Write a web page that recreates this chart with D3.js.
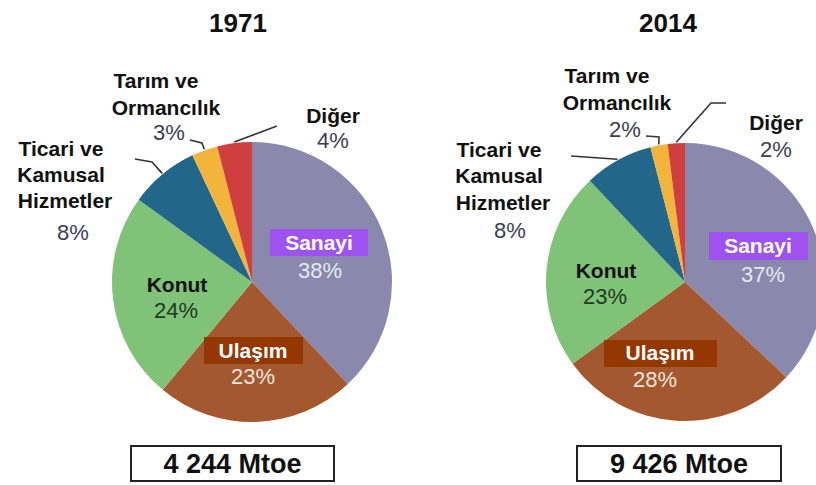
<!DOCTYPE html>
<html>
<head>
<meta charset="utf-8">
<script src="https://cdn.jsdelivr.net/npm/d3@7"></script>
<style>
  body { margin: 0; background: #fff; }
  svg text { font-family: "Liberation Sans", Arial, sans-serif; }
</style>
</head>
<body>
<div id="chart"></div>
<script>
// sector order clockwise from 12 o'clock
const sectors = ["Sanayi", "Ulaşım", "Konut", "Ticari ve Kamusal Hizmetler", "Tarım ve Ormancılık", "Diğer"];
const years = ["1971", "2014"];
const values1971 = [38, 23, 24, 8, 3, 4];
const values2014 = [37, 28, 23, 8, 2, 2];
const totals = ["4 244 Mtoe", "9 426 Mtoe"];

const colors = ["#8a88ad", "#a3582f", "#80c277", "#22668a", "#f2b43a", "#cf3f3f"];

const width = 816, height = 485;

// layout for each pie (positions only)
const layouts = [
  {
    cx: 252, cy: 282, r: 140, titleX: 238, boxX: 131, boxW: 203,
    inner: {
      0: {x: 319, y: 250, box: [270, 229, 98, 27], boxFill: "#a052f0", color: "#fff", pctX: 320, pctY: 278, pctColor: "#e8e8f2"},
      1: {x: 253, y: 358, box: [204, 337, 99, 27], boxFill: "#943700", color: "#fff", pctX: 253, pctY: 384, pctColor: "#f2e4dc"},
      2: {x: 177, y: 292, color: "#111", pctX: 176, pctY: 318, pctColor: "#1e3a22"}
    },
    outer: {
      3: {lines: [[61, 156], [61, 182], [65, 208]], pct: [73, 240], leader: [[135, 159], [152, 162]]},
      4: {lines: [[156, 88], [166, 115]], pct: [169, 140], leader: [[190, 140], [202, 143]]},
      5: {lines: [[333, 123]], pct: [333, 148], leader: [[277, 126]]}
    }
  },
  {
    cx: 685, cy: 282, r: 139, titleX: 668, boxX: 577, boxW: 204,
    inner: {
      0: {x: 758, y: 253, box: [709, 232, 99, 28], boxFill: "#a052f0", color: "#fff", pctX: 763, pctY: 282, pctColor: "#e8e8f2"},
      1: {x: 660, y: 360, box: [604, 340, 113, 27], boxFill: "#943700", color: "#fff", pctX: 655, pctY: 387, pctColor: "#f2e4dc"},
      2: {x: 606, y: 278, color: "#111", pctX: 605, pctY: 304, pctColor: "#1e3a22"}
    },
    outer: {
      3: {lines: [[499, 157], [499, 183], [503, 210]], pct: [510, 238], leader: [[571, 156]]},
      4: {lines: [[607, 83], [617, 110]], pct: [625, 137], leader: [[646, 136], [659, 137]]},
      5: {lines: [[776, 130]], pct: [776, 157], leader: [[726, 103], [711, 103]]}
    }
  }
];

const shortNames = [["Sanayi"], ["Ulaşım"], ["Konut"], ["Ticari ve", "Kamusal", "Hizmetler"], ["Tarım ve", "Ormancılık"], ["Diğer"]];

const svg = d3.select("#chart").append("svg")
  .attr("width", width)
  .attr("height", height);

const pie = d3.pie().sort(null).value(d => d);

function drawPie(values, i) {
  const L = layouts[i];
  const arcs = pie(values);
  const arc = d3.arc().innerRadius(0).outerRadius(L.r);

  svg.append("text")
    .attr("x", L.titleX).attr("y", 32)
    .attr("text-anchor", "middle")
    .attr("font-size", 26).attr("font-weight", "bold").attr("fill", "#111")
    .text(years[i]);

  const g = svg.append("g").attr("transform", `translate(${L.cx},${L.cy})`);
  g.selectAll("path")
    .data(arcs)
    .join("path")
    .attr("d", arc)
    .attr("fill", (d, k) => colors[k]);

  // inner labels
  Object.entries(L.inner).forEach(([k, o]) => {
    k = +k;
    if (o.box) {
      svg.append("rect")
        .attr("x", o.box[0]).attr("y", o.box[1])
        .attr("width", o.box[2]).attr("height", o.box[3])
        .attr("fill", o.boxFill);
    }
    svg.append("text")
      .attr("x", o.x).attr("y", o.y)
      .attr("text-anchor", "middle")
      .attr("font-size", 21).attr("font-weight", "bold").attr("fill", o.color)
      .text(shortNames[k][0]);
    svg.append("text")
      .attr("x", o.pctX).attr("y", o.pctY)
      .attr("text-anchor", "middle")
      .attr("font-size", 22).attr("fill", o.pctColor)
      .text(values[k] + "%");
  });

  // outer labels with leader lines
  Object.entries(L.outer).forEach(([k, o]) => {
    k = +k;
    const a = arcs[k];
    const mid = (a.startAngle + a.endAngle) / 2;
    const edge = [L.cx + (L.r + 1) * Math.sin(mid), L.cy - (L.r + 1) * Math.cos(mid)];
    svg.append("path")
      .attr("d", d3.line()(o.leader.concat([edge])))
      .attr("fill", "none")
      .attr("stroke", "#333")
      .attr("stroke-width", 1.6);
    shortNames[k].forEach((line, j) => {
      svg.append("text")
        .attr("x", o.lines[j][0]).attr("y", o.lines[j][1])
        .attr("text-anchor", "middle")
        .attr("font-size", 21).attr("font-weight", "bold").attr("fill", "#111")
        .text(line);
    });
    svg.append("text")
      .attr("x", o.pct[0]).attr("y", o.pct[1])
      .attr("text-anchor", "middle")
      .attr("font-size", 22).attr("fill", "#3d3d55")
      .text(values[k] + "%");
  });

  // total box
  svg.append("rect")
    .attr("x", L.boxX).attr("y", 446)
    .attr("width", L.boxW).attr("height", 35)
    .attr("fill", "#fff")
    .attr("stroke", "#222").attr("stroke-width", 2);
  svg.append("text")
    .attr("x", L.boxX + L.boxW / 2).attr("y", 473)
    .attr("text-anchor", "middle")
    .attr("font-size", 27).attr("font-weight", "bold").attr("fill", "#111")
    .text(totals[i]);
}

drawPie(values1971, 0);
drawPie(values2014, 1);
</script>
</body>
</html>
